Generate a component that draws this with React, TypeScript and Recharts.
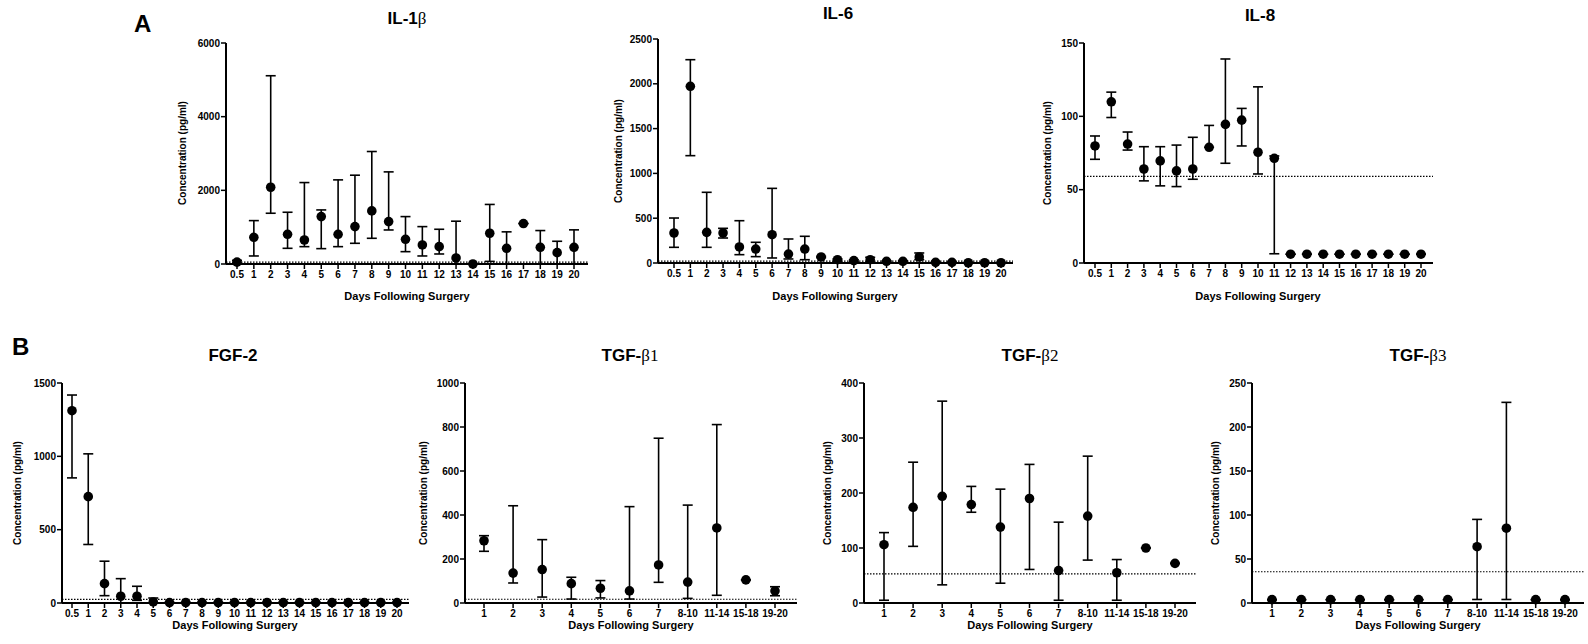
import React from "react";
import { ComposedChart, Line, XAxis, YAxis, ErrorBar, ReferenceLine } from "recharts";

const FONT = '"Liberation Sans", Arial, Helvetica, sans-serif';
const SERIF = '"Liberation Serif", "Times New Roman", serif';

// days sampled
const dailyDays = ["0.5", "1", "2", "3", "4", "5", "6", "7", "8", "9", "10", "11", "12", "13", "14", "15", "16", "17", "18", "19", "20"];
const pooledDays = ["1", "2", "3", "4", "5", "6", "7", "8-10", "11-14", "15-18", "19-20"];

// IL-1b
const il1bMedian = [50, 725, 2084, 807, 652, 1287, 807, 1015, 1441, 1151, 671, 517, 471, 164, 0, 835, 426, 1099, 453, 308, 453];
const il1bLow = [0, 218, 1378, 426, 471, 417, 471, 562, 698, 924, 335, 218, 272, 0, 0, 71, 0, 1099, 0, 0, 0];
const il1bHigh = [100, 1178, 5111, 1405, 2211, 1468, 2284, 2411, 3054, 2501, 1287, 1015, 943, 1162, 0, 1617, 873, 1099, 908, 617, 927];
const il1bTicks = [0, 2000, 4000, 6000];
const il1bLimit = 50;

// IL-6
const il6Median = [335, 1972, 342, 335, 179, 156, 316, 100, 156, 67, 37, 26, 37, 19, 19, 67, 7, 7, 3, 3, 3];
const il6Low = [175, 1198, 175, 279, 93, 71, 56, 45, 37, 60, 20, 15, 10, 10, 10, 37, 3, 3, 0, 0, 0];
const il6High = [502, 2269, 789, 387, 472, 231, 833, 268, 298, 75, 45, 35, 63, 25, 25, 112, 10, 10, 5, 5, 5];
const il6Ticks = [0, 500, 1000, 1500, 2000, 2500];
const il6Limit = 20;

// IL-8
const il8Median = [79.8, 109.9, 81.1, 64.1, 69.6, 62.8, 64.1, 78.9, 94.5, 97.4, 75.5, 71.4, 6, 6, 6, 6, 6, 6, 6, 6, 6];
const il8Low = [70.7, 99.2, 77, 56, 52.6, 52.1, 57.1, 78.9, 68, 79.8, 60.7, 6.3, 6, 6, 6, 6, 6, 6, 6, 6, 6];
const il8High = [86.6, 116.5, 89.3, 79.3, 79.3, 80.4, 85.7, 93.8, 139.1, 105.4, 120.1, 73, 6, 6, 6, 6, 6, 6, 6, 6, 6];
const il8Ticks = [0, 50, 100, 150];
const il8Limit = 59;

// FGF-2
const fgf2Median = [1311, 725, 132, 46, 46, 7, 3, 3, 3, 3, 3, 3, 3, 3, 3, 3, 3, 3, 3, 3, 3];
const fgf2Low = [853, 399, 50, 0, 18, 0, 3, 3, 3, 3, 3, 3, 3, 3, 3, 3, 3, 3, 3, 3, 3];
const fgf2High = [1418, 1017, 285, 166, 114, 34, 3, 3, 3, 3, 3, 3, 3, 3, 3, 3, 3, 3, 3, 3, 3];
const fgf2Ticks = [0, 500, 1000, 1500];
const fgf2Limit = 25;

// TGF-b1
const tgfb1Median = [283, 136, 152, 88, 67, 55, 173, 95, 341, 105, 55];
const tgfb1Low = [235, 91, 27, 18, 23, 18, 94, 21, 35, 105, 33];
const tgfb1High = [306, 442, 288, 117, 102, 438, 749, 445, 811, 105, 74];
const tgfb1Ticks = [0, 200, 400, 600, 800, 1000];
const tgfb1Limit = 17;

// TGF-b2
const tgfb2Median = [106, 174, 194, 179, 138, 190, 59, 158, 55, 100, 72];
const tgfb2Low = [5, 103, 33, 165, 36, 61, 5, 78, 5, 100, 72];
const tgfb2High = [128, 256, 367, 212, 207, 252, 147, 267, 79, 100, 72];
const tgfb2Ticks = [0, 100, 200, 300, 400];
const tgfb2Limit = 53;

// TGF-b3
const tgfb3Median = [3.8, 3.8, 3.8, 3.8, 3.8, 3.8, 3.8, 64, 85, 3.8, 3.8];
const tgfb3Low = [3.8, 3.8, 3.8, 3.8, 3.8, 3.8, 3.8, 4, 4, 3.8, 3.8];
const tgfb3High = [3.8, 3.8, 3.8, 3.8, 3.8, 3.8, 3.8, 95, 228, 3.8, 3.8];
const tgfb3Ticks = [0, 50, 100, 150, 200, 250];
const tgfb3Limit = 35.5;

type Row = { day: string; value: number; err: [number, number] };

const toRows = (days: string[], values: number[], low: number[], high: number[]): Row[] =>
  days.map((day, i) => ({ day, value: values[i], err: [values[i] - low[i], high[i] - values[i]] }));

type PanelProps = {
  x0: number; // y-axis position
  x1: number; // end of x-axis
  top: number;
  zero: number;
  padL: number;
  padR: number;
  data: Row[];
  ticks: number[];
  limit: number;
};

const tickStyle = { fontFamily: FONT, fontSize: 10, fontWeight: 700, fill: "#000" };

const Panel = ({ x0, x1, top, zero, padL, padR, data, ticks, limit }: PanelProps) => {
  const yw = 60;
  const xh = 30;
  const width = yw + (x1 - x0) + 2;
  const height = 10 + (zero - top) + xh;
  return (
    <div style={{ position: "absolute", left: x0 - yw, top: top - 10 }}>
      <ComposedChart width={width} height={height} data={data} margin={{ top: 10, right: 2, bottom: 0, left: 0 }}>
        <XAxis
          dataKey="day"
          type="category"
          interval={0}
          height={xh}
          padding={{ left: padL, right: padR }}
          tick={tickStyle}
          tickSize={5}
          tickMargin={2}
          axisLine={{ stroke: "#000", strokeWidth: 2 }}
          tickLine={{ stroke: "#000", strokeWidth: 1.5 }}
        />
        <YAxis
          type="number"
          domain={[0, ticks[ticks.length - 1]]}
          ticks={ticks}
          width={yw}
          tick={tickStyle}
          tickSize={5}
          tickMargin={1}
          axisLine={{ stroke: "#000", strokeWidth: 2 }}
          tickLine={{ stroke: "#000", strokeWidth: 1.5 }}
        />
        <ReferenceLine y={limit} stroke="#000" strokeWidth={1.2} strokeDasharray="1.5 1.5" />
        <Line
          dataKey="value"
          stroke="none"
          isAnimationActive={false}
          activeDot={false}
          dot={{ r: 4.8, fill: "#000", stroke: "#000", strokeWidth: 0 }}
        >
          <ErrorBar dataKey="err" direction="y" width={5} stroke="#000" strokeWidth={1.6} />
        </Line>
      </ComposedChart>
    </div>
  );
};

const Beta = ({ after = "" }: { after?: string }) => (
  <span style={{ fontFamily: SERIF, fontWeight: 400 }}>β{after}</span>
);

const Title = ({ cx, cy, children }: { cx: number; cy: number; children: React.ReactNode }) => (
  <div
    style={{
      position: "absolute",
      left: cx,
      top: cy,
      transform: "translate(-50%, -50%)",
      fontFamily: FONT,
      fontWeight: 700,
      fontSize: 17,
      whiteSpace: "nowrap",
    }}
  >
    {children}
  </div>
);

const YLabel = ({ cx, cy }: { cx: number; cy: number }) => (
  <div
    style={{
      position: "absolute",
      left: cx,
      top: cy,
      transform: "translate(-50%, -50%) rotate(-90deg)",
      fontFamily: FONT,
      fontWeight: 700,
      fontSize: 10,
      whiteSpace: "nowrap",
    }}
  >
    Concentration (pg/ml)
  </div>
);

const XLabel = ({ cx, cy }: { cx: number; cy: number }) => (
  <div
    style={{
      position: "absolute",
      left: cx,
      top: cy,
      transform: "translate(-50%, -50%)",
      fontFamily: FONT,
      fontWeight: 700,
      fontSize: 11,
      whiteSpace: "nowrap",
    }}
  >
    Days Following Surgery
  </div>
);

const Letter = ({ x, y, text }: { x: number; y: number; text: string }) => (
  <div style={{ position: "absolute", left: x, top: y, fontFamily: FONT, fontWeight: 700, fontSize: 24, lineHeight: "24px" }}>
    {text}
  </div>
);

export default function App() {
  return (
    <div style={{ position: "absolute", left: 0, top: 0, width: 1588, height: 644, background: "#fff", overflow: "hidden" }}>
      <Letter x={134} y={12} text="A" />
      <Letter x={12} y={335} text="B" />

      <Title cx={407} cy={19}>IL-1<Beta /></Title>
      <Title cx={838} cy={14}>IL-6</Title>
      <Title cx={1260} cy={16}>IL-8</Title>
      <Title cx={233} cy={356}>FGF-2</Title>
      <Title cx={630} cy={356}>TGF-<Beta after="1" /></Title>
      <Title cx={1030} cy={356}>TGF-<Beta after="2" /></Title>
      <Title cx={1418} cy={356}>TGF-<Beta after="3" /></Title>

      <YLabel cx={182} cy={153} />
      <YLabel cx={618} cy={151} />
      <YLabel cx={1047} cy={153} />
      <YLabel cx={17} cy={493} />
      <YLabel cx={423} cy={493} />
      <YLabel cx={827} cy={493} />
      <YLabel cx={1215} cy={493} />

      <XLabel cx={407} cy={296} />
      <XLabel cx={835} cy={296} />
      <XLabel cx={1258} cy={296} />
      <XLabel cx={235} cy={625} />
      <XLabel cx={631} cy={625} />
      <XLabel cx={1030} cy={625} />
      <XLabel cx={1418} cy={625} />

      <Panel x0={226} x1={588} top={43} zero={264} padL={11} padR={14}
        data={toRows(dailyDays, il1bMedian, il1bLow, il1bHigh)} ticks={il1bTicks} limit={il1bLimit} />
      <Panel x0={658} x1={1013} top={39} zero={263} padL={16} padR={12}
        data={toRows(dailyDays, il6Median, il6Low, il6High)} ticks={il6Ticks} limit={il6Limit} />
      <Panel x0={1084} x1={1433} top={43} zero={263} padL={11} padR={12}
        data={toRows(dailyDays, il8Median, il8Low, il8High)} ticks={il8Ticks} limit={il8Limit} />
      <Panel x0={62} x1={409} top={383} zero={603} padL={10} padR={12}
        data={toRows(dailyDays, fgf2Median, fgf2Low, fgf2High)} ticks={fgf2Ticks} limit={fgf2Limit} />
      <Panel x0={465} x1={797} top={383} zero={603} padL={19} padR={22}
        data={toRows(pooledDays, tgfb1Median, tgfb1Low, tgfb1High)} ticks={tgfb1Ticks} limit={tgfb1Limit} />
      <Panel x0={864} x1={1196} top={383} zero={603} padL={20} padR={21}
        data={toRows(pooledDays, tgfb2Median, tgfb2Low, tgfb2High)} ticks={tgfb2Ticks} limit={tgfb2Limit} />
      <Panel x0={1252} x1={1584} top={383} zero={603} padL={20} padR={19}
        data={toRows(pooledDays, tgfb3Median, tgfb3Low, tgfb3High)} ticks={tgfb3Ticks} limit={tgfb3Limit} />
    </div>
  );
}
